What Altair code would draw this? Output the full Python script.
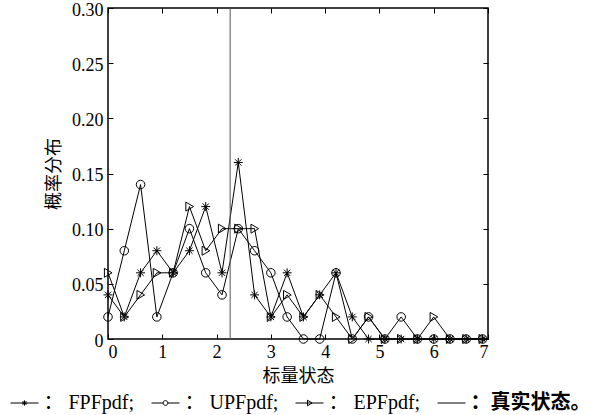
import altair as alt
import pandas as pd

# ---- data ----
x_states = [0.0, 0.3, 0.6, 0.9, 1.2, 1.5, 1.8, 2.1, 2.4, 2.7, 3.0, 3.3,
            3.6, 3.9, 4.2, 4.5, 4.8, 5.1, 5.4, 5.7, 6.0, 6.3, 6.6, 6.9]
fpf = [0.04, 0.02, 0.06, 0.08, 0.06, 0.08, 0.12, 0.06, 0.16, 0.04, 0.02, 0.06,
       0.02, 0.04, 0.06, 0.02, 0.00, 0.00, 0.00, 0.00, 0.00, 0.00, 0.00, 0.00]
upf = [0.02, 0.08, 0.14, 0.02, 0.06, 0.10, 0.06, 0.04, 0.10, 0.08, 0.06, 0.02,
       0.00, 0.00, 0.06, 0.00, 0.02, 0.00, 0.02, 0.00, 0.00, 0.00, 0.00, 0.00]
epf = [0.06, 0.02, 0.04, 0.06, 0.06, 0.12, 0.08, 0.10, 0.10, 0.10, 0.02, 0.04,
       0.02, 0.04, 0.02, 0.00, 0.02, 0.00, 0.00, 0.00, 0.02, 0.00, 0.00, 0.00]
true_state = [2.25]

series_names = ["FPFpdf", "UPFpdf", "EPFpdf"]
legend_keys = ["FPFpdf", "UPFpdf", "EPFpdf", "真实状态"]
x_ticks = [0, 1, 2, 3, 4, 5, 6, 7]
y_ticks = [0, 0.05, 0.10, 0.15, 0.20, 0.25, 0.30]

# marker shapes (plot) and line+marker glyphs (legend)
marker_paths = [
    "M0,-1V1M-1,0H1M-0.7,-0.7L0.7,0.7M-0.7,0.7L0.7,-0.7",
    "M-0.95,0A0.95,0.95 0 1,1 0.95,0A0.95,0.95 0 1,1 -0.95,0Z",
    "M-0.8,-1L0.9,0L-0.8,1Z",
]
legend_paths = [
    "M-7,0H7M0,-1.3V1.3M-1.3,0H1.3M-0.95,-0.95L0.95,0.95M-0.95,0.95L0.95,-0.95",
    "M-7,0H-1.2M1.2,0H7M-1.2,0A1.2,1.2 0 1,1 1.2,0A1.2,1.2 0 1,1 -1.2,0Z",
    "M-7,0H7M-1,-1.4L1.3,0L-1,1.4Z",
    "M-7,0H7",
]

FONT = "Liberation Serif, Noto Sans CJK SC"
W, H = 380, 331

rows = []
for name, vals in zip(series_names, [fpf, upf, epf]):
    for xv, yv in zip(x_states, vals):
        rows.append({"x": xv, "p": yv, "series": name})
df = pd.DataFrame(rows)

xs = alt.Scale(domain=[0, 7], nice=False, zero=False)
ys = alt.Scale(domain=[0, 0.30], nice=False)

xaxis = alt.Axis(values=x_ticks, format="d", title="标量状态", grid=True,
                 gridColor="black", gridWidth=1, gridDash=[5, H - 10],
                 ticks=False, domain=False, labelPadding=4, titlePadding=6,
                 labelFont=FONT, labelFontSize=18, labelColor="black",
                 titleFont=FONT, titleFontSize=18, titleColor="black",
                 titleFontWeight="normal")
yaxis = alt.Axis(values=y_ticks, title="概率分布", grid=True,
                 gridColor="black", gridWidth=1, gridDash=[5, W - 10],
                 ticks=False, domain=False, labelPadding=5, titlePadding=8,
                 labelOffset=2,
                 labelFont=FONT, labelFontSize=18, labelColor="black",
                 titleFont=FONT, titleFontSize=18, titleColor="black",
                 titleFontWeight="normal",
                 labelExpr="datum.value == 0 ? '0' : format(datum.value, '.2f')")

X = alt.X("x:Q", scale=xs, axis=xaxis)
Y = alt.Y("p:Q", scale=ys, axis=yaxis)

lines = alt.Chart(df).mark_line(color="black", strokeWidth=1).encode(
    x=X, y=Y, detail="series:N")

points = alt.Chart(df).mark_point(filled=False, color="black", strokeWidth=1,
                                  size=81, opacity=1).encode(
    x=X, y=Y,
    shape=alt.Shape("series:N", scale=alt.Scale(domain=series_names, range=marker_paths),
                    legend=None))

rule = alt.Chart(pd.DataFrame({"x": true_state})).mark_rule(
    color="#555555", strokeWidth=1).encode(x=X)

legend_layer = alt.Chart(pd.DataFrame({"key": legend_keys})).mark_point(
    filled=False, color="black", opacity=0, size=16).encode(
    x=alt.value(0), y=alt.value(0),
    shape=alt.Shape("key:N",
                    scale=alt.Scale(domain=legend_keys, range=legend_paths),
                    legend=alt.Legend(
                        title=None, orient="none", legendX=-98, legendY=385,
                        direction="horizontal", columns=4,
                        symbolSize=16, symbolOffset=4.5, labelOffset=9,
                        columnPadding=14, symbolStrokeWidth=1,
                        symbolStrokeColor="black", symbolFillColor="transparent",
                        symbolOpacity=1,
                        labelFont=FONT, labelFontSize=20, labelColor="black",
                        labelLimit=300,
                        labelFontWeight=alt.ExprRef("datum.value == '真实状态' ? 'bold' : 'normal'"),
                        labelExpr="datum.label == '真实状态' ? '：真实状态。' : '： ' + datum.label + ';'",
                    )))

chart = alt.layer(lines, rule, points, legend_layer).resolve_scale(
    shape="independent"
).properties(
    width=W, height=H,
    autosize=alt.AutoSizeParams(type="none"),
    padding={"left": 108, "top": 8, "right": 107, "bottom": 76},
    background="white",
).configure_view(
    stroke="black", strokeWidth=1.5
)

chart.save("out.html", embed_options={"renderer": "svg", "actions": False})
